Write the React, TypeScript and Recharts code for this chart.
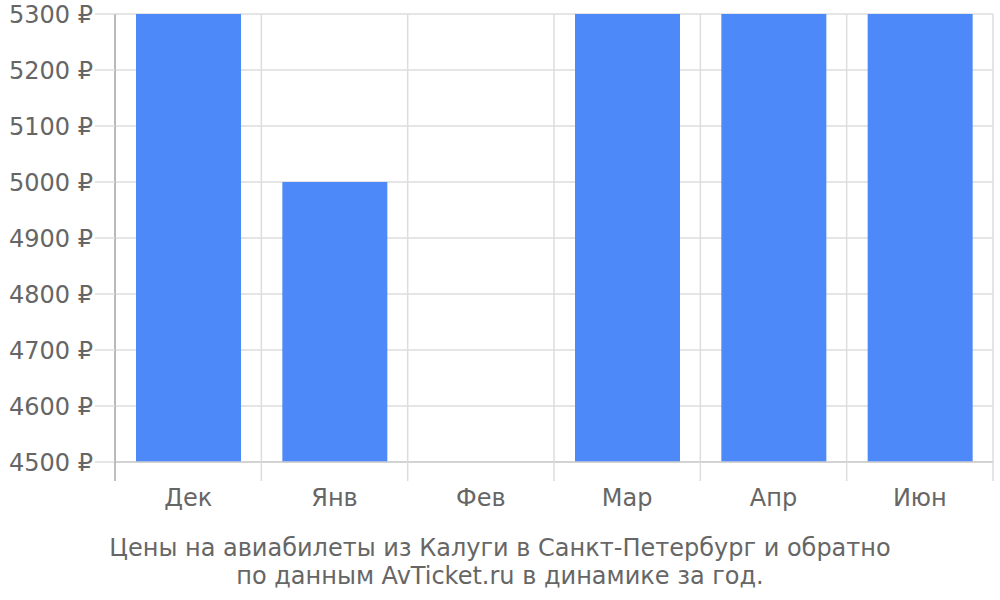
import React from "react"
import { Bar, BarChart, CartesianGrid, XAxis, YAxis } from "recharts"

const months = ["Дек", "Янв", "Фев", "Мар", "Апр", "Июн"]
// prices above 5300 are cut off at the top of the chart
const prices: (number | null)[] = [5600, 5000, null, 5800, 5500, 5700]
const yTicks = [4500, 4600, 4700, 4800, 4900, 5000, 5100, 5200, 5300]

const data = months.map((m, i) => ({ name: m, price: prices[i] }))

const W = 1000
const H = 600
const LEFT = 115
const RIGHT = 993
const TOP = 14
const BOTTOM = 462
const STEP = (RIGHT - LEFT) / months.length

const font = "'DejaVu Sans', sans-serif"

function MonthTick(props: any) {
  const { x, payload, index } = props
  const left = x - STEP / 2
  return (
    <g>
      <line x1={left} x2={left} y1={BOTTOM} y2={BOTTOM + 19} stroke={index === 0 ? "#aaa" : "#ddd"} strokeWidth={1.5} />
      {index === months.length - 1 && (
        <line x1={x + STEP / 2} x2={x + STEP / 2} y1={BOTTOM} y2={BOTTOM + 19} stroke="#ddd" strokeWidth={1.5} />
      )}
      <text x={x} y={BOTTOM + 44} textAnchor="middle" fill="#666" fontSize={24} fontFamily={font}>
        {payload.value}
      </text>
    </g>
  )
}

function PriceTick(props: any) {
  const { y, payload } = props
  return (
    <text x={LEFT - 22} y={y + 8.5} textAnchor="end" fill="#666" fontSize={24} fontFamily={font}>
      {payload.value} ₽
    </text>
  )
}

export default function App() {
  return (
    <div style={{ position: "absolute", left: 0, top: 0, width: W, height: H, background: "#fff" }}>
      <BarChart
        width={W}
        height={H}
        data={data}
        margin={{ top: TOP, right: W - RIGHT, bottom: H - BOTTOM - 60, left: 0 }}
        barSize={105}
      >
        <CartesianGrid
          stroke="#ddd"
          strokeWidth={1.5}
          verticalCoordinatesGenerator={() => months.map((_, i) => LEFT + i * STEP).concat([RIGHT])}
        />
        <XAxis
          dataKey="name"
          height={60}
          tick={<MonthTick />}
          tickLine={false}
          axisLine={{ stroke: "#ccc", strokeWidth: 1.5 }}
          interval={0}
        />
        <YAxis
          width={LEFT}
          domain={[4500, 5300]}
          ticks={yTicks}
          allowDataOverflow
          tick={<PriceTick />}
          tickSize={20}
          tickLine={{ stroke: "#ddd", strokeWidth: 1.5 }}
          axisLine={{ stroke: "#aaa", strokeWidth: 1.5 }}
        />
        <Bar dataKey="price" fill="#4d89f9" isAnimationActive={false} />
      </BarChart>
      <div
        style={{
          position: "absolute",
          top: 534,
          left: 0,
          width: W,
          textAlign: "center",
          fontFamily: font,
          fontSize: 24,
          lineHeight: "28px",
          color: "#666",
        }}
      >
        Цены на авиабилеты из Калуги в Санкт-Петербург и обратно
        <br />
        по данным AvTicket.ru в динамике за год.
      </div>
    </div>
  )
}
